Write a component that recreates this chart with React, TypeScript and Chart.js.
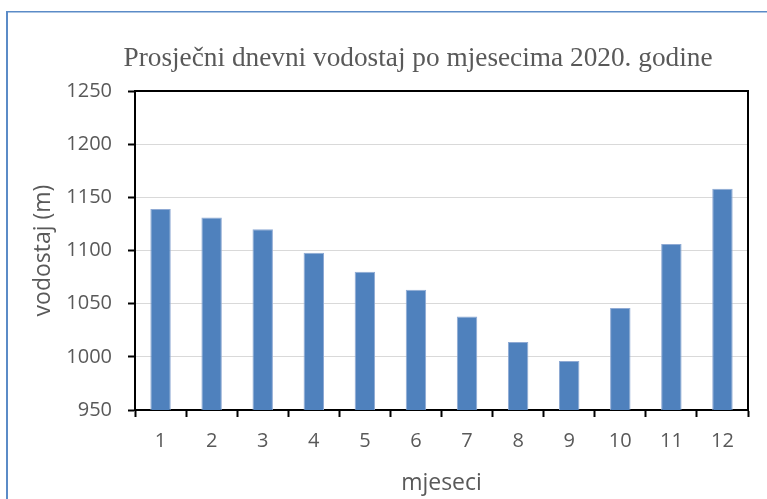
import React, { useEffect, useRef } from 'react';
import { Chart, registerables } from 'chart.js';

Chart.register(...registerables);

const CHART_TITLE = 'Prosječni dnevni vodostaj po mjesecima 2020. godine';
const X_TITLE = 'mjeseci';
const Y_TITLE = 'vodostaj (m)';
const months = ['1', '2', '3', '4', '5', '6', '7', '8', '9', '10', '11', '12'];
const waterLevel = [1139, 1131, 1120, 1098, 1080, 1063, 1038, 1014, 996, 1046, 1106, 1158];
const Y_MIN = 950;
const Y_MAX = 1250;
const Y_STEP = 50;

const TEXT_COLOR = '#595959';
const BAR_COLOR = '#4F81BD';
const SANS = '"Open Sans", sans-serif';

const framePlugin = {
  id: 'frame',
  beforeDraw(chart: any) {
    const ctx = chart.ctx;
    ctx.save();
    ctx.strokeStyle = '#5B8BC7';
    ctx.lineWidth = 2;
    ctx.beginPath();
    ctx.moveTo(7, 11);
    ctx.lineTo(7, chart.height + 5);
    ctx.stroke();
    ctx.lineWidth = 1.5;
    ctx.beginPath();
    ctx.moveTo(6, 11.75);
    ctx.lineTo(chart.width + 5, 11.75);
    ctx.stroke();
    ctx.restore();
  },
  afterDraw(chart: any) {
    const ctx = chart.ctx;
    const a = chart.chartArea;
    ctx.save();
    ctx.strokeStyle = '#000000';
    ctx.lineWidth = 2;
    ctx.beginPath();
    ctx.moveTo(a.left, a.top);
    ctx.lineTo(a.right, a.top);
    ctx.lineTo(a.right, a.bottom);
    ctx.stroke();
    ctx.fillStyle = TEXT_COLOR;
    ctx.font = '27.3px "Liberation Serif", "Times New Roman", serif';
    ctx.textAlign = 'center';
    ctx.textBaseline = 'alphabetic';
    ctx.fillText(CHART_TITLE, 418, 66);
    ctx.restore();
  },
};

export default function App() {
  const ref = useRef<HTMLCanvasElement | null>(null);

  useEffect(() => {
    if (!ref.current) return;
    const chart = new Chart(ref.current, {
      type: 'bar',
      data: {
        labels: months,
        datasets: [
          {
            label: Y_TITLE,
            data: waterLevel,
            backgroundColor: BAR_COLOR,
            borderColor: '#8FAAD4',
            borderWidth: 1,
            barPercentage: 0.4,
            categoryPercentage: 1,
          },
        ],
      },
      options: {
        responsive: false,
        animation: false,
        layout: { padding: { top: 91, right: 19, left: 0, bottom: 0 } },
        plugins: {
          legend: { display: false },
          title: { display: false },
          tooltip: { enabled: false },
        },
        scales: {
          x: {
            ticks: { color: TEXT_COLOR, font: { family: SANS, size: 20 }, padding: 12 },
            grid: {
              offset: true,
              drawOnChartArea: false,
              tickColor: '#000000',
              tickLength: 7,
              tickWidth: 2,
            },
            border: { color: '#000000', width: 2 },
            title: {
              display: true,
              text: X_TITLE,
              color: TEXT_COLOR,
              font: { family: SANS, size: 23 },
              padding: { top: 0, bottom: 2 },
            },
            afterFit: (s: any) => {
              s.height = 89;
            },
          },
          y: {
            min: Y_MIN,
            max: Y_MAX,
            ticks: {
              stepSize: Y_STEP,
              color: TEXT_COLOR,
              font: { family: SANS, size: 20 },
              padding: 16,
              callback: (v: any) => String(v),
            },
            grid: {
              color: '#D9D9D9',
              lineWidth: 1,
              tickColor: '#000000',
              tickLength: 7,
              tickWidth: 2,
            },
            border: { color: '#000000', width: 2 },
            title: {
              display: true,
              text: Y_TITLE,
              color: TEXT_COLOR,
              font: { family: SANS, size: 23 },
              padding: { top: 30, bottom: 0 },
            },
            afterFit: (s: any) => {
              s.width = 135;
            },
          },
        },
      },
      plugins: [framePlugin],
    });
    return () => chart.destroy();
  }, []);

  return (
    <canvas
      ref={ref}
      width={767}
      height={499}
      style={{ display: 'block', position: 'absolute', left: 0, top: 0 }}
    />
  );
}
